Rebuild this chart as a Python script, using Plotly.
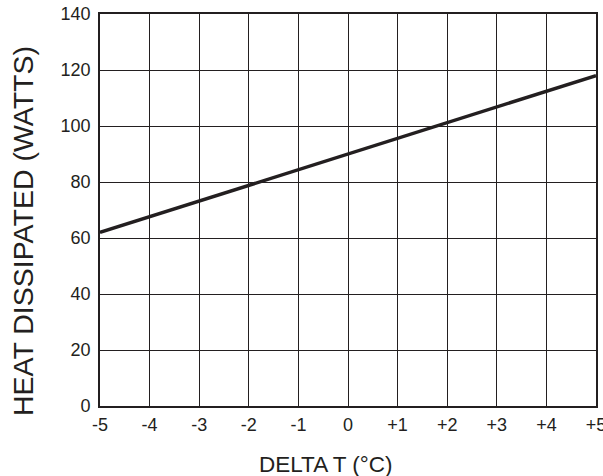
import plotly.graph_objects as go

delta_t = [-5, 5]
heat_watts = [62, 118]
x_ticks = [-5, -4, -3, -2, -1, 0, 1, 2, 3, 4, 5]
x_tick_labels = ["-5", "-4", "-3", "-2", "-1", "0", "+1", "+2", "+3", "+4", "+5"]
y_ticks = [0, 20, 40, 60, 80, 100, 120, 140]

ink = "#231f20"
fig = go.Figure()
fig.add_trace(go.Scatter(x=delta_t, y=heat_watts, mode="lines",
                         line=dict(color=ink, width=3.5),
                         showlegend=False, hoverinfo="skip"))

fam = "Liberation Sans, Arial, sans-serif"
axis_common = dict(showgrid=True, gridcolor=ink, gridwidth=1.4,
                   zeroline=False, showline=True, linecolor=ink, linewidth=1.6,
                   mirror=True, ticks="", ticklabeloverflow="allow", automargin=False,
                   tickfont=dict(size=18, family=fam, color=ink))
fig.update_layout(
    template="none",
    width=603, height=476,
    margin=dict(l=100, r=7, t=14, b=70, autoexpand=False),
    paper_bgcolor="white", plot_bgcolor="white",
    font=dict(family=fam, color=ink, size=18),
    xaxis=dict(range=[-5, 5], tickvals=x_ticks, ticktext=x_tick_labels,
               ticklabelstandoff=2, **axis_common),
    yaxis=dict(range=[0, 140], tickvals=y_ticks, ticklabelstandoff=4, **axis_common),
    annotations=[
        dict(text="DELTA T (°C)", xref="paper", yref="paper", x=0.4556, y=-0.148,
             xanchor="center", yanchor="middle", showarrow=False,
             font=dict(size=22.5, family=fam, color=ink)),
        dict(text="HEAT DISSIPATED (WATTS)", xref="paper", yref="paper", x=-0.1552, y=0.4464,
             xanchor="center", yanchor="middle", showarrow=False, textangle=-90,
             font=dict(size=28.5, family=fam, color=ink)),
    ],
)
fig.write_html("out.html", config={"displayModeBar": False},
               post_script="document.body.style.margin='0';document.body.style.overflow='hidden';")
